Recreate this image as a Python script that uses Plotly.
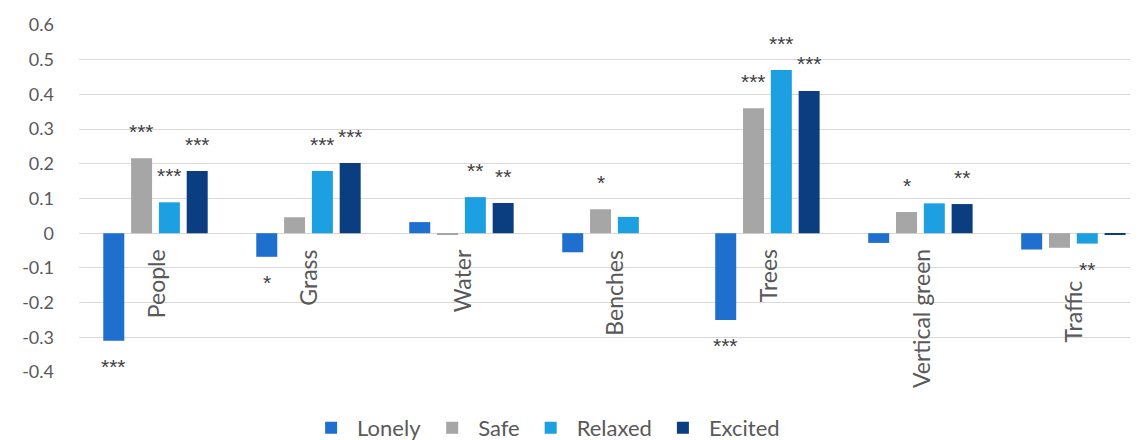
import plotly.graph_objects as go

categories = ["People", "Grass", "Water", "Benches", "Trees", "Vertical green", "Traffic"]
series_names = ["Lonely", "Safe", "Relaxed", "Excited"]

lonely = [-0.31, -0.068, 0.032, -0.055, -0.25, -0.028, -0.047]
safe = [0.216, 0.046, -0.005, 0.069, 0.36, 0.061, -0.042]
relaxed = [0.089, 0.179, 0.104, 0.047, 0.47, 0.086, -0.030]
excited = [0.179, 0.202, 0.087, 0.0, 0.41, 0.084, -0.004]

lonely_sig = ["***", "*", "", "", "***", "", ""]
safe_sig = ["***", "", "", "*", "***", "*", ""]
relaxed_sig = ["***", "***", "**", "", "***", "", "**"]
excited_sig = ["***", "***", "**", "", "***", "**", ""]

tick_vals = [-0.4, -0.3, -0.2, -0.1, 0, 0.1, 0.2, 0.3, 0.4, 0.5, 0.6]
tick_text = ["-0.4", "-0.3", "-0.2", "-0.1", "0", "0.1", "0.2", "0.3", "0.4", "0.5", "0.6"]

colors = ["#1F6FCF", "#A6A6A6", "#1CA0E2", "#0B3E80"]
values = [lonely, safe, relaxed, excited]
sigs = [lonely_sig, safe_sig, relaxed_sig, excited_sig]

W, H = 1138, 440
ML, MR, MT, MB = 79, 8, 25, 68
BARGAP, GROUPGAP = 0.273, 0.245
XR = [-0.5, 6.37]
FONT = "Lato"
TXT = "#595959"
LABEL_GAP = 14          # px between zero line and category label
LABEL_EXTRA_DROP = {"Traffic": 31}  # label pushed down (avoids the ** mark), as in the original

fig = go.Figure()
for name, vals, col in zip(series_names, values, colors):
    fig.add_trace(go.Bar(x=categories, y=vals, name=name, marker=dict(color=col, line=dict(width=0))))

plot_w = W - ML - MR
step_px = plot_w / (XR[1] - XR[0])
pitch = step_px * (1 - BARGAP) / len(series_names)

annotations = []
for i, (vals, sg) in enumerate(zip(values, sigs)):
    for cat, v, s in zip(categories, vals, sg):
        if not s:
            continue
        annotations.append(dict(
            x=cat, y=v, xref="x", yref="y", text=s, showarrow=False,
            xanchor="center", yanchor="middle",
            xshift=(i - 1.5) * pitch, yshift=27 if v >= 0 else -26,
            font=dict(family="Liberation Sans", size=21, color="#404040"),
        ))

# category labels sit just under the zero line, rotated
for cat in categories:
    annotations.append(dict(
        x=cat, y=0, xref="x", yref="y", text=cat, showarrow=False, textangle=-90,
        xanchor="center", yanchor="top",
        yshift=-(LABEL_GAP + LABEL_EXTRA_DROP.get(cat, 0)),
        font=dict(family=FONT, size=23, color=TXT),
    ))

fig.update_layout(
    width=W, height=H,
    margin=dict(l=ML, r=MR, t=MT, b=MB, autoexpand=False),
    paper_bgcolor="white", plot_bgcolor="white",
    barmode="group", bargap=BARGAP, bargroupgap=GROUPGAP,
    font=dict(family=FONT, size=20, color=TXT),
    showlegend=True,
    legend=dict(orientation="h", x=0.4435, xanchor="center", y=-0.161, yanchor="middle",
                font=dict(family=FONT, size=22, color=TXT), itemwidth=42,
                bgcolor="rgba(0,0,0,0)"),
    annotations=annotations,
    xaxis=dict(type="category", range=XR, automargin=False,
               showgrid=False, showline=False, ticks="", zeroline=False,
               showticklabels=False),
    yaxis=dict(range=[-0.4, 0.6], tickvals=tick_vals, ticktext=tick_text, automargin=False,
               showgrid=True, gridcolor="#D9D9D9", gridwidth=1,
               zeroline=True, zerolinecolor="#D9D9D9", zerolinewidth=1,
               showline=False, ticks="", ticklabelstandoff=24,
               tickfont=dict(family=FONT, size=18, color=TXT)),
)

fig.write_html("out.html")
